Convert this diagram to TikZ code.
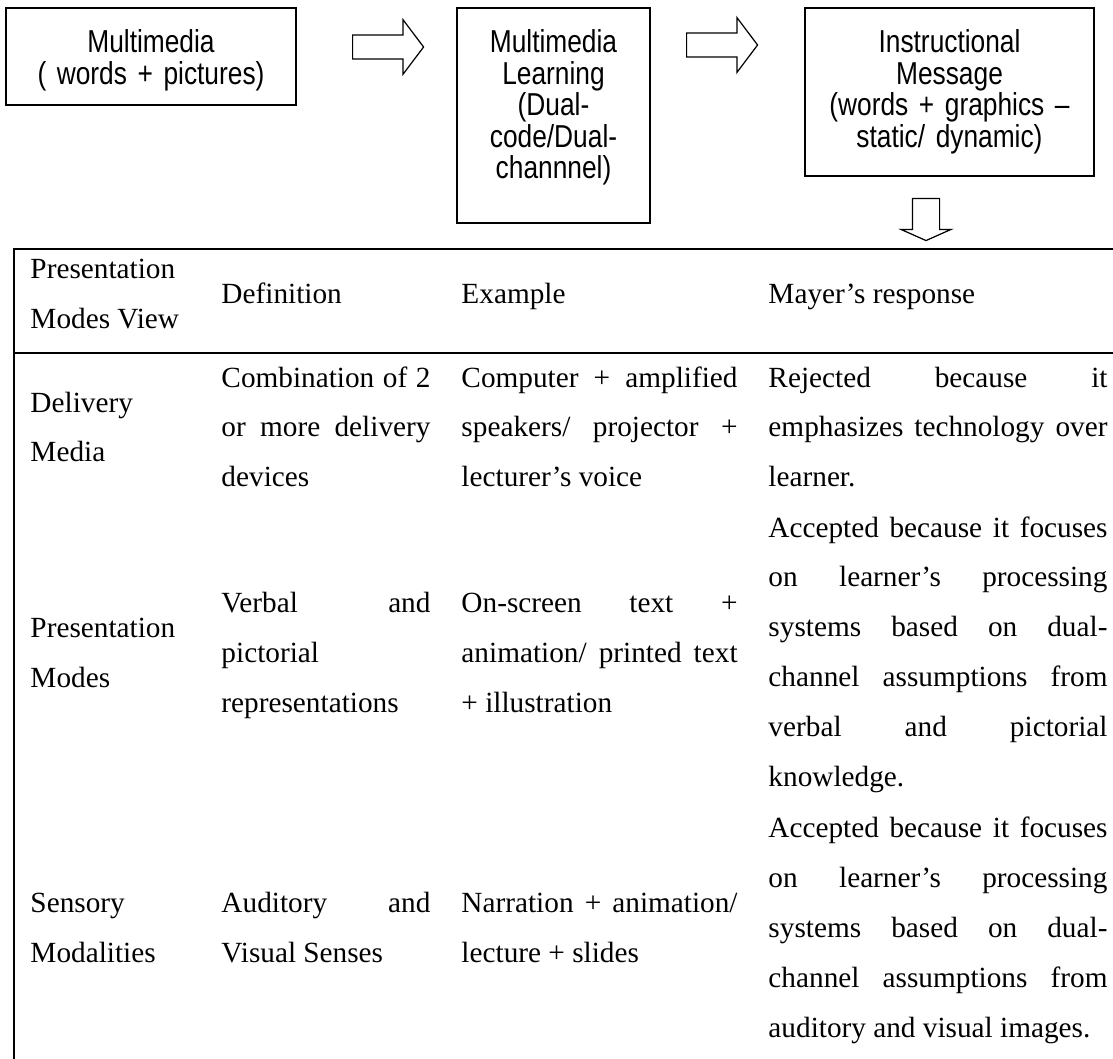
\documentclass[tikz,border=0pt]{standalone}
\usepackage{fontspec}
\setmainfont{Liberation Serif}
\newfontfamily\boxfont[FakeStretch=0.83]{Liberation Sans}
\usepackage{tikz}
\usetikzlibrary{shapes.arrows}
\tolerance=10000
\hbadness=10000
\tikzset{
  box/.style={draw,line width=0.5pt,inner sep=0pt,anchor=base,align=center,
    font=\boxfont\fontsize{13}{12.9}\selectfont,text height=18.45pt},
  cell/.style={inner sep=0pt,anchor=base west,align=justify,font=\fontsize{12}{20.5}\selectfont},
  hcell/.style={inner sep=0pt,anchor=base west,font=\fontsize{12}{20.5}\selectfont},
  rarrow/.style={draw,line width=0.5pt,single arrow,inner sep=0pt,anchor=tail,
    text height=9.4pt,text depth=0pt,single arrow head extend=6.3pt,
    single arrow tip angle=106,minimum height=29.1pt},
  darrow/.style={draw,line width=0.5pt,single arrow,inner sep=0pt,anchor=tail,rotate=-90,
    text height=10.66pt,text depth=0pt,single arrow head extend=4.7pt,
    single arrow tip angle=132,minimum height=17.2pt},
  rule/.style={line width=0.8pt}}
\begin{document}
\begin{tikzpicture}[x=0.41pt,y=-0.41pt]
  \useasboundingbox (0,0) rectangle (1113,1059);
  % the three boxes on top
  \node[box,text width=118.9pt,text depth=21.32pt] (media) at (151,53)
    {Multimedia\\( words + pictures)};
  \node[box,text width=79.13pt,text depth=69.7pt] (learn) at (553.5,53)
    {Multimedia\\Learning\\(Dual-\\code/Dual-\\channnel)};
  \node[box,text width=118.49pt,text depth=50.43pt] (msg) at (949.5,53)
    {Instructional\\Message\\(words + graphics –\\static/ dynamic)};
  \node[rarrow] (toLearn) at (352,47) {};
  \node[rarrow] (toMsg) at (686,45) {};
  \node[darrow] (toTable) at (926,198) {};
  % the table
  \draw[rule] (1113,249) -- (14,249) -- (14,1059);
  \draw[rule] (14,353) -- (1113,353);
  \node[cell,text width=65pt] (view) at (30,279) {Presentation\\Modes View};
  \node[hcell] (defn) at (221,304) {Definition};
  \node[hcell] (exmp) at (461,304) {Example};
  \node[hcell] (resp) at (768,304) {Mayer’s response};
  % delivery media
  \node[cell,text width=65pt] (deliv) at (30,412) {Delivery\\Media};
  \node[cell,text width=85.7pt] (deliv-def) at (221,387)
    {Combination of 2\linebreak or more delivery\linebreak devices};
  \node[cell,text width=113.2pt] (deliv-ex) at (461,387)
    {Computer + amplified\linebreak speakers/ projector +\linebreak lecturer’s voice};
  \node[cell,text width=139pt] (deliv-resp) at (768,387)
    {Rejected because it\linebreak emphasizes technology over\linebreak learner.};
  % presentation modes
  \node[cell,text width=65pt] (pres) at (30,637) {Presentation\\Modes};
  \node[cell,text width=85.7pt] (pres-def) at (221,612)
    {Verbal and\linebreak pictorial\linebreak representations};
  \node[cell,text width=113.2pt] (pres-ex) at (461,612)
    {On-screen text +\linebreak animation/ printed text\linebreak + illustration};
  \node[cell,text width=139pt] (pres-resp) at (768,537)
    {Accepted because it focuses\linebreak on learner’s processing\linebreak
     systems based on dual-\linebreak channel assumptions from\linebreak
     verbal and pictorial\linebreak knowledge.};
  % sensory modalities
  \node[cell,text width=65pt] (sens) at (30,912) {Sensory\\Modalities};
  \node[cell,text width=85.7pt] (sens-def) at (221,912)
    {Auditory and\linebreak Visual Senses};
  \node[cell,text width=113.2pt] (sens-ex) at (461,912)
    {Narration + animation/\linebreak lecture + slides};
  \node[cell,text width=139pt] (sens-resp) at (768,837)
    {Accepted because it focuses\linebreak on learner’s processing\linebreak
     systems based on dual-\linebreak channel assumptions from\linebreak
     auditory and visual images.};
\end{tikzpicture}
\end{document}
